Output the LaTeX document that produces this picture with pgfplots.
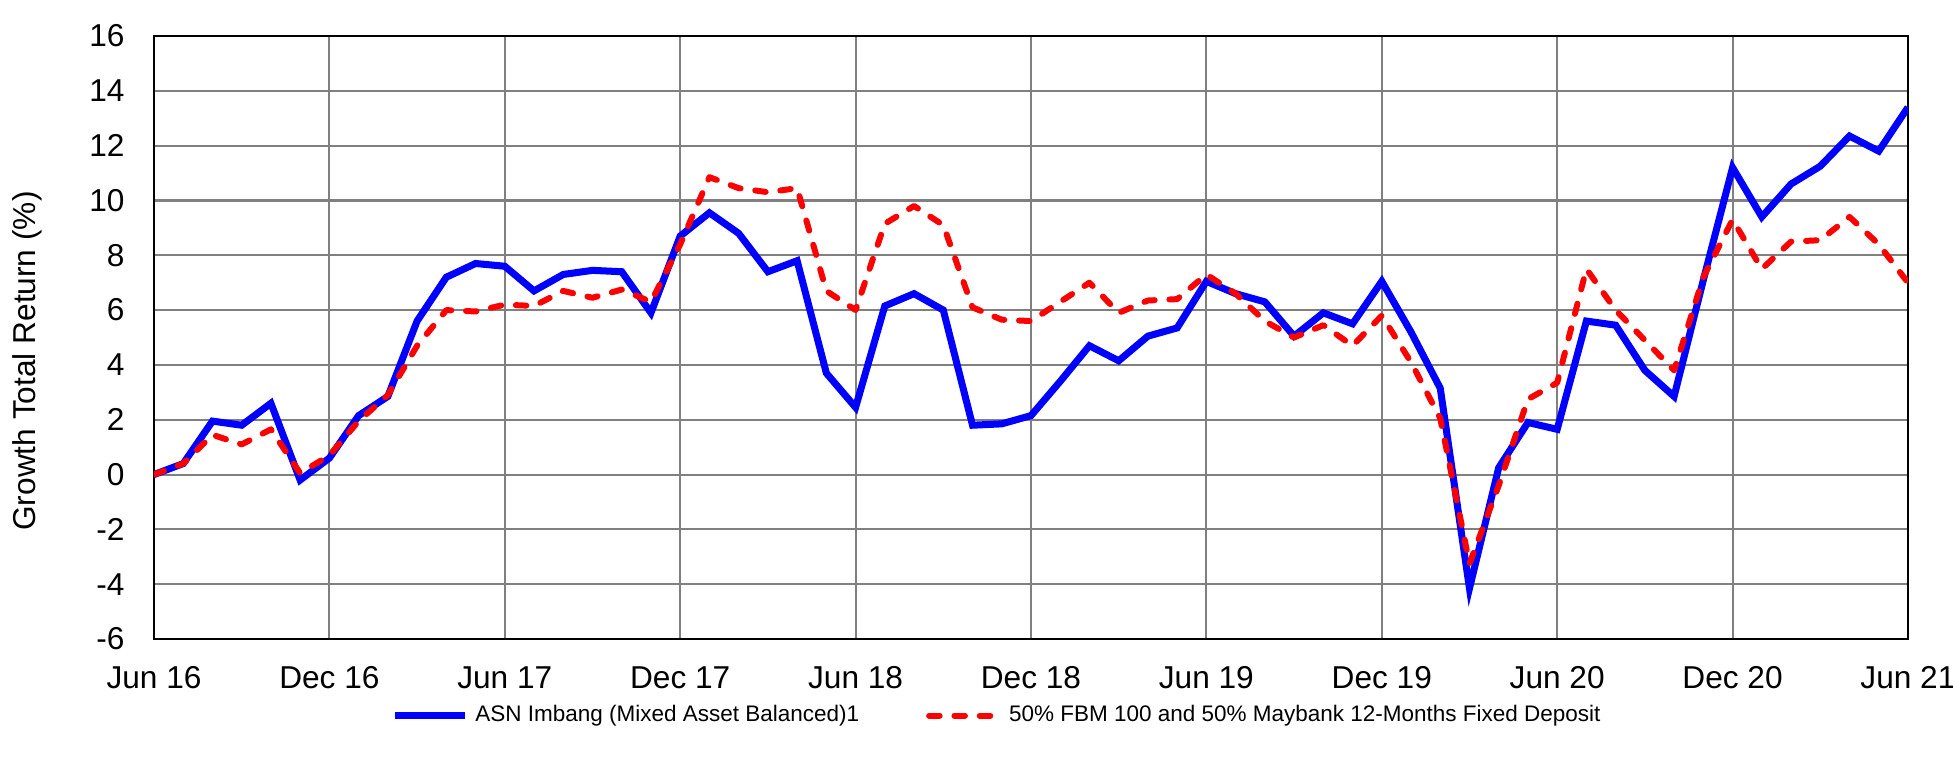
\documentclass[border=0pt]{standalone}
\usepackage{fontspec}
\setmainfont{Liberation Sans}
\usepackage{pgfplots}
\pgfplotsset{compat=1.18}
\begin{document}
\begin{tikzpicture}[x=1cm,y=1cm]
\useasboundingbox (-1.54,-1.22) rectangle (17.99,6.39);
\begin{axis}[
  at={(0,0)}, anchor=south west,
  scale only axis,
  width=17.54cm, height=6.03cm,
  xmin=0, xmax=60, ymin=-6, ymax=16,
  xtick={0,6,...,60},
  xticklabels={Jun 16,Dec 16,Jun 17,Dec 17,Jun 18,Dec 18,Jun 19,Dec 19,Jun 20,Dec 20,Jun 21},
  ytick={-6,-4,...,16},
  yticklabels={-6,-4,-2,0,2,4,6,8,10,12,14,16},
  major tick length=0pt,
  grid=major,
  major grid style={draw=black!50, line width=0.6pt},
  axis line style={black, line width=0.8pt},
  tick label style={font=\fontsize{9}{10}\selectfont},
  xticklabel style={anchor=north, yshift=-0.15cm},
  yticklabel style={anchor=east, xshift=-0.17cm},
  ylabel={Growth Total Return (\%)},
  ylabel style={font=\fontsize{9}{10}\selectfont, at={(axis description cs:-0.0724,0.461)}, anchor=center},
  legend columns=2,
  legend style={draw=none, fill=none, at={(0.482,-0.127)}, anchor=center,
    font=\fontsize{6.4}{7.5}\selectfont,
    /tikz/every even column/.append style={column sep=0.6cm}},
  legend image code/.code={\draw[#1] (0cm,0cm) -- (0.7cm,0cm);},
]
\addplot[blue, line width=2pt, line join=miter] coordinates {
(0,0) (1,0.4) (2,1.95) (3,1.8) (4,2.6) (5,-0.2) (6,0.6) (7,2.15) (8,2.85) (9,5.6)
(10,7.2) (11,7.7) (12,7.6) (13,6.7) (14,7.3) (15,7.45) (16,7.4) (17,5.9) (18,8.7) (19,9.55)
(20,8.8) (21,7.4) (22,7.8) (23,3.7) (24,2.45) (25,6.15) (26,6.6) (27,6.0) (28,1.8) (29,1.85)
(30,2.15) (31,3.4) (32,4.7) (33,4.15) (34,5.05) (35,5.35) (36,7.05) (37,6.6) (38,6.3) (39,5.05)
(40,5.9) (41,5.5) (42,7.05) (43,5.2) (44,3.15) (45,-4.15) (46,0.25) (47,1.9) (48,1.65) (49,5.6)
(50,5.45) (51,3.8) (52,2.85) (53,7.1) (54,11.2) (55,9.4) (56,10.6) (57,11.25) (58,12.35) (59,11.8)
(60,13.4)};
\addlegendentry{ASN Imbang (Mixed Asset Balanced)1}
\addplot[red, line width=1.7pt, line cap=round, line join=round, dash pattern=on 3pt off 4.2pt] coordinates {
(0,0) (1,0.4) (2,1.45) (3,1.1) (4,1.65) (5,0.05) (6,0.7) (7,1.95) (8,2.9) (9,4.7)
(10,6.0) (11,5.95) (12,6.2) (13,6.15) (14,6.7) (15,6.45) (16,6.75) (17,6.3) (18,8.4) (19,10.85)
(20,10.45) (21,10.3) (22,10.45) (23,6.7) (24,6.0) (25,9.15) (26,9.8) (27,9.1) (28,6.1) (29,5.65)
(30,5.6) (31,6.3) (32,7.0) (33,5.9) (34,6.35) (35,6.4) (36,7.3) (37,6.6) (38,5.6) (39,5.0)
(40,5.45) (41,4.7) (42,5.8) (43,4.1) (44,2.05) (45,-3.25) (46,-0.4) (47,2.75) (48,3.35) (49,7.5)
(50,6.0) (51,4.9) (52,3.8) (53,7.2) (54,9.3) (55,7.5) (56,8.5) (57,8.55) (58,9.4) (59,8.4)
(60,7.0)};
\addlegendentry{50\% FBM 100 and 50\% Maybank 12-Months Fixed Deposit}
\end{axis}
\end{tikzpicture}
\end{document}
